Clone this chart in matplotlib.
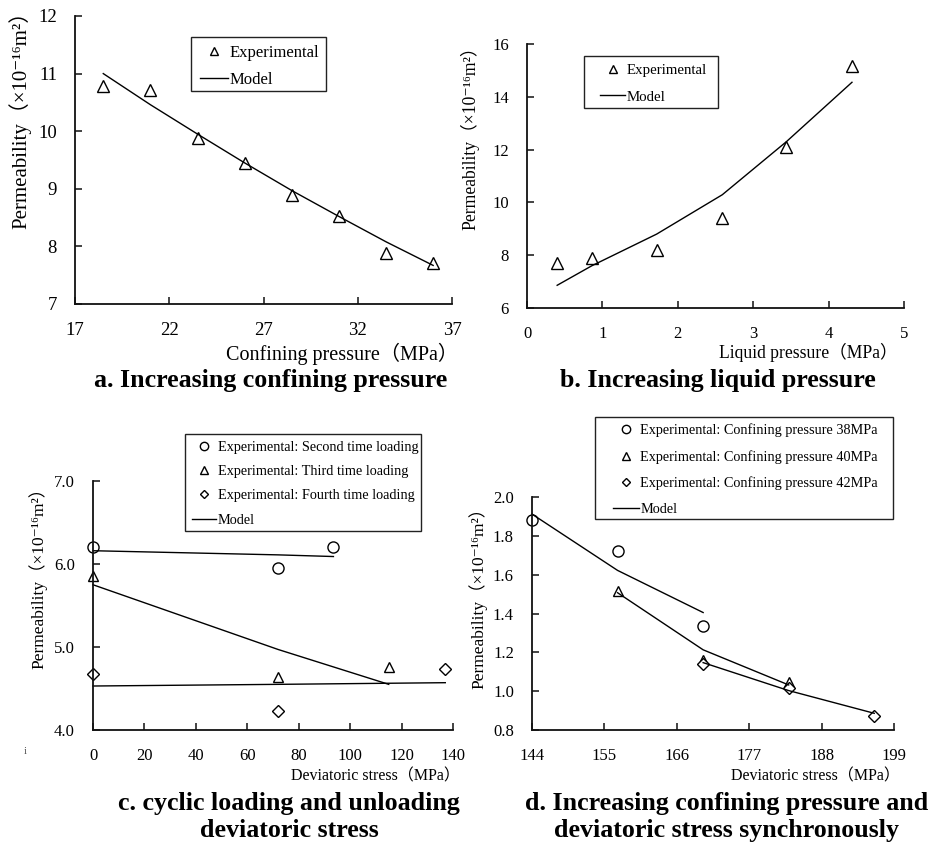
import matplotlib
matplotlib.use("Agg")
import matplotlib.pyplot as plt
from matplotlib.patches import Rectangle
import numpy as np

plt.rcParams['font.family'] = ['Liberation Serif', 'Noto Sans CJK SC', 'DejaVu Sans']

# ---- a. increasing confining pressure ----
confining_p = [18.5, 21, 23.5, 26, 28.5, 31, 33.5, 36]
perm_a_exp = [10.78, 10.71, 9.89, 9.44, 8.89, 8.53, 7.88, 7.72]
perm_a_model = [11.0, 10.46, 9.95, 9.45, 8.97, 8.52, 8.08, 7.67]

# ---- b. increasing liquid pressure ----
liquid_p = [0.4, 0.86, 1.72, 2.59, 3.44, 4.31]
perm_b_exp = [7.70, 7.89, 8.18, 9.41, 12.11, 15.15]
perm_b_model = [6.86, 7.60, 8.80, 10.29, 12.30, 14.55]

# ---- c. cyclic loading / unloading of deviatoric stress ----
dev_c_2nd = [0, 72, 93.5]
perm_c_2nd = [6.20, 5.95, 6.21]
dev_c_3rd = [0, 72, 115]
perm_c_3rd = [5.85, 4.64, 4.76]
dev_c_4th = [0, 72, 137]
perm_c_4th = [4.68, 4.23, 4.74]
model_c_2nd = [6.16, 6.11, 6.09]
model_c_3rd = [5.75, 4.97, 4.55]
model_c_4th = [4.53, 4.55, 4.57]

# ---- d. confining pressure and deviatoric stress increased together ----
dev_d_38 = [144, 157, 170]
perm_d_38 = [1.88, 1.723, 1.336]
model_d_38 = [1.912, 1.622, 1.405]
dev_d_40 = [157, 170, 183]
perm_d_40 = [1.517, 1.161, 1.046]
model_d_40 = [1.507, 1.213, 1.032]
dev_d_42 = [170, 183, 196]
perm_d_42 = [1.139, 1.018, 0.874]
model_d_42 = [1.147, 1.003, 0.886]

W, H = 933, 848
fig = plt.figure(figsize=(W / 100, H / 100), dpi=100)


def add_axes_px(left, top, right, bottom):
    return fig.add_axes([left / W, 1 - bottom / H, (right - left) / W, (bottom - top) / H])


def style_axes(ax, fs, pad):
    for s in ('top', 'right'):
        ax.spines[s].set_visible(False)
    for s in ('left', 'bottom'):
        ax.spines[s].set_linewidth(1.3)
        ax.spines[s].set_color('#111111')
    ax.tick_params(direction='in', length=5, width=1.1, labelsize=fs, pad=pad,
                   colors='#111111', labelcolor='black')


def label_px(ax, xlabel, xpos, ylabel, ypos, xfs, yfs):
    # place axis labels at given figure pixel positions
    inv = ax.transAxes.inverted()
    ax.set_xlabel(xlabel, fontsize=xfs, ha='right', va='center')
    xa = inv.transform(fig.transFigure.transform((xpos[0] / W, 1 - xpos[1] / H)))
    ax.xaxis.set_label_coords(xa[0], xa[1])
    ax.set_ylabel(ylabel, fontsize=yfs, ha='center', va='center')
    ya = inv.transform(fig.transFigure.transform((ypos[0] / W, 1 - ypos[1] / H)))
    ax.yaxis.set_label_coords(ya[0], ya[1])


def legend_px(ax, frame, handle_x, row1_y, fs, **kw):
    # legend entries anchored at pixel position, boxed by a separate frame
    fs_px = fs * 100 / 72
    top = row1_y - 0.38 * fs_px
    leg = ax.legend(loc='upper left', bbox_to_anchor=(handle_x / W, 1 - top / H),
                    bbox_transform=fig.transFigure, borderaxespad=0, borderpad=0,
                    fontsize=fs, frameon=False, **kw)
    x0, y0, x1, y1 = frame
    fig.add_artist(Rectangle((x0 / W, 1 - y1 / H), (x1 - x0) / W, (y1 - y0) / H,
                             transform=fig.transFigure, fill=False,
                             edgecolor='#222222', linewidth=1.0, zorder=5))
    return leg


perm_label = 'Permeability（×10⁻¹⁶m²）'
open_mk = dict(markerfacecolor='white', markeredgecolor='black', markeredgewidth=1.0,
               linestyle='none')
line_kw = dict(color='black', linewidth=1.0)

# ---------- panel a ----------
ax = add_axes_px(75, 16, 452, 304)
ax.plot(confining_p, perm_a_exp, marker='^', markersize=9, label='Experimental', **open_mk)
ax.plot(confining_p, perm_a_model, label='Model', **line_kw)
ax.set_xlim(17, 37)
ax.set_ylim(7, 12)
ax.set_xticks(np.arange(17, 38, 5))
ax.set_yticks(np.arange(7, 13, 1))
style_axes(ax, 13.5, 13)
label_px(ax, 'Confining pressure（MPa）', (458, 354), perm_label, (20, 115), 14.5, 15)
legend_px(ax, (191, 37, 326, 91), 200, 51, 12, markerscale=0.65, handlelength=1.7,
          handletextpad=0.1, labelspacing=0.69)
for ln in ax.lines:
    ln.set_clip_on(False)

# ---------- panel b ----------
ax = add_axes_px(527, 44, 904, 308)
ax.plot(liquid_p, perm_b_exp, marker='^', markersize=9, label='Experimental', **open_mk)
ax.plot(liquid_p, perm_b_model, label='Model', **line_kw)
ax.set_xlim(0, 5)
ax.set_ylim(6, 16)
ax.set_xticks(np.arange(0, 6, 1))
ax.set_yticks(np.arange(6, 17, 2))
style_axes(ax, 12, 13)
label_px(ax, 'Liquid pressure（MPa）', (898, 352), perm_label, (470, 134), 12.7, 12.7)
legend_px(ax, (584, 56, 718, 108), 600, 69, 10.7, markerscale=0.65, handlelength=1.7,
          handletextpad=0.1, labelspacing=0.9)
for ln in ax.lines:
    ln.set_clip_on(False)

# ---------- panel c ----------
ax = add_axes_px(93, 481, 453, 730)
ax.plot(dev_c_2nd, perm_c_2nd, marker='o', markersize=8,
        label='Experimental: Second time loading', **open_mk)
ax.plot(dev_c_3rd, perm_c_3rd, marker='^', markersize=7.5,
        label='Experimental: Third time loading', **open_mk)
ax.plot(dev_c_4th, perm_c_4th, marker='D', markersize=6,
        label='Experimental: Fourth time loading', **open_mk)
ax.plot(dev_c_2nd, model_c_2nd, label='Model', **line_kw)
ax.plot(dev_c_3rd, model_c_3rd, **line_kw)
ax.plot(dev_c_4th, model_c_4th, **line_kw)
ax.set_xlim(0, 140)
ax.set_ylim(4, 7)
ax.set_xticks(np.arange(0, 141, 20))
ax.set_yticks(np.arange(4, 7.01, 1))
ax.yaxis.set_major_formatter(matplotlib.ticker.FormatStrFormatter('%.1f'))
style_axes(ax, 12, 13)
label_px(ax, 'Deviatoric stress（MPa）', (460, 776), perm_label, (38, 574), 11.5, 12.5)
legend_px(ax, (185, 434, 421, 531), 192, 446, 10.3, markerscale=0.75, handlelength=1.7,
          handletextpad=0.1, labelspacing=0.8)
for ln in ax.lines:
    ln.set_clip_on(False)

# ---------- panel d ----------
ax = add_axes_px(532, 497, 894, 730)
ax.plot(dev_d_38, perm_d_38, marker='o', markersize=8,
        label='Experimental: Confining pressure 38MPa', **open_mk)
ax.plot(dev_d_40, perm_d_40, marker='^', markersize=7.5,
        label='Experimental: Confining pressure 40MPa', **open_mk)
ax.plot(dev_d_42, perm_d_42, marker='D', markersize=6,
        label='Experimental: Confining pressure 42MPa', **open_mk)
ax.plot(dev_d_38, model_d_38, label='Model', **line_kw)
ax.plot(dev_d_40, model_d_40, **line_kw)
ax.plot(dev_d_42, model_d_42, **line_kw)
ax.set_xlim(144, 199)
ax.set_ylim(0.8, 2.0)
ax.set_xticks(np.arange(144, 200, 11))
ax.set_yticks(np.arange(0.8, 2.01, 0.2))
ax.yaxis.set_major_formatter(matplotlib.ticker.FormatStrFormatter('%.1f'))
style_axes(ax, 12, 13)
label_px(ax, 'Deviatoric stress（MPa）', (900, 776), perm_label, (478, 594), 11.5, 12.5)
legend_px(ax, (595, 417, 893, 519), 613, 429, 10.3, markerscale=0.75, handlelength=1.8,
          handletextpad=0.1, labelspacing=0.89)
for ln in ax.lines:
    ln.set_clip_on(False)

# ---------- panel captions ----------
cap = dict(fontsize=18.7, fontweight='bold', ha='center', va='center', linespacing=1.25)
fig.text(271 / W, 1 - 380 / H, 'a. Increasing confining pressure', **cap)
fig.text(718 / W, 1 - 381 / H, 'b. Increasing liquid pressure', **cap)
fig.text(289 / W, 1 - 817 / H, 'c. cyclic loading and unloading\ndeviatoric stress', **cap)
fig.text(727 / W, 1 - 817 / H, 'd. Increasing confining pressure and\ndeviatoric stress synchronously', **cap)
fig.text(25 / W, 1 - 752 / H, 'i', fontsize=8, color='#555555', ha='center', va='center')

fig.savefig('out.png', dpi=100, facecolor='white')
